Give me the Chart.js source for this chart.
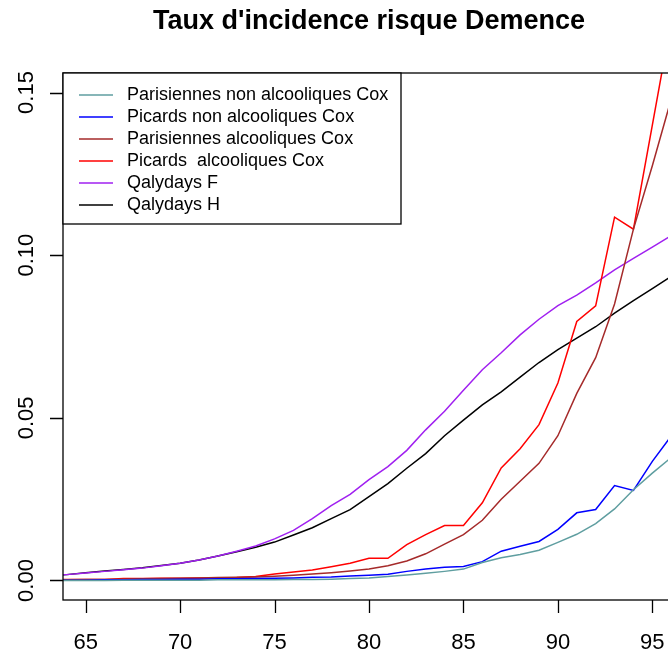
<!DOCTYPE html>
<html>
<head>
<meta charset="utf-8">
<script src="https://cdn.jsdelivr.net/npm/chart.js@4.4.1/dist/chart.umd.min.js"></script>
<style>
  html, body { margin: 0; padding: 0; overflow: hidden; background: #fff; }
  canvas { display: block; }
</style>
</head>
<body>
<canvas id="c" width="700" height="655" style="width:700px;height:655px"></canvas>
<script>
// Age (years)
const ages = [63, 64, 65, 66, 67, 68, 69, 70, 71, 72, 73, 74, 75, 76, 77, 78, 79,
              80, 81, 82, 83, 84, 85, 86, 87, 88, 89, 90, 91, 92, 93, 94, 95, 96];

// Incidence rates by group
const parisiennesNonAlc = [0.0000, 0.0000, 0.0000, 0.0000, 0.0001, 0.0001, 0.0001, 0.0001, 0.0001, 0.0002,
  0.0002, 0.0002, 0.0002, 0.0003, 0.0003, 0.0004, 0.0006, 0.0008, 0.0012, 0.0017, 0.0022, 0.0028,
  0.0035, 0.0055, 0.0070, 0.0080, 0.0093, 0.0117, 0.0142, 0.0175, 0.0220, 0.0279, 0.0330, 0.0378];
const picardsNonAlc = [0.0001, 0.0001, 0.0001, 0.0002, 0.0002, 0.0003, 0.0003, 0.0004, 0.0004, 0.0005,
  0.0005, 0.0006, 0.0007, 0.0008, 0.0010, 0.0011, 0.0014, 0.0016, 0.0019, 0.0028, 0.0035, 0.0041,
  0.0043, 0.0058, 0.0090, 0.0105, 0.0120, 0.0157, 0.0208, 0.0218, 0.0292, 0.0277, 0.0366, 0.0444];
const parisiennesAlc = [0.0002, 0.0002, 0.0003, 0.0003, 0.0004, 0.0005, 0.0006, 0.0007, 0.0008, 0.0009,
  0.0010, 0.0011, 0.0013, 0.0016, 0.0020, 0.0024, 0.0029, 0.0035, 0.0045, 0.0060, 0.0082, 0.0112,
  0.0141, 0.0185, 0.0250, 0.0305, 0.0360, 0.0445, 0.0575, 0.0685, 0.0850, 0.1080, 0.1275, 0.1480];
const picardsAlc = [0.0003, 0.0003, 0.0003, 0.0003, 0.0006, 0.0006, 0.0007, 0.0007, 0.0008, 0.0008,
  0.0009, 0.0012, 0.0020, 0.0026, 0.0032, 0.0042, 0.0053, 0.0068, 0.0068, 0.0110, 0.0141, 0.0169,
  0.0169, 0.0239, 0.0346, 0.0405, 0.0479, 0.0607, 0.0796, 0.0844, 0.1117, 0.1080, 0.1400, 0.1720];
const qalydaysF = [0.0015, 0.0018, 0.0023, 0.0028, 0.0033, 0.0038, 0.0045, 0.0053, 0.0063, 0.0075,
  0.0090, 0.0106, 0.0128, 0.0154, 0.0190, 0.0230, 0.0265, 0.0310, 0.0350, 0.0400, 0.0463, 0.0520,
  0.0585, 0.0648, 0.0700, 0.0755, 0.0803, 0.0845, 0.0877, 0.0915, 0.0955, 0.0990, 0.1025, 0.1060];
const qalydaysH = [0.0015, 0.0018, 0.0024, 0.0029, 0.0034, 0.0039, 0.0046, 0.0053, 0.0063, 0.0075,
  0.0088, 0.0102, 0.0118, 0.0140, 0.0162, 0.0190, 0.0218, 0.0258, 0.0298, 0.0345, 0.0390, 0.0445,
  0.0493, 0.0540, 0.0580, 0.0625, 0.0670, 0.0710, 0.0745, 0.0780, 0.0822, 0.0860, 0.0897, 0.0935];

const seriesLabels = [
  "Parisiennes non alcooliques Cox",
  "Picards non alcooliques Cox",
  "Parisiennes alcooliques Cox",
  "Picards  alcooliques Cox",
  "Qalydays F",
  "Qalydays H"
];
const seriesValues = [parisiennesNonAlc, picardsNonAlc, parisiennesAlc, picardsAlc, qalydaysF, qalydaysH];
const seriesColors = ["#5F9EA0", "#0000FF", "#A52A2A", "#FF0000", "#A020F0", "#000000"];

const xTicks = [65, 70, 75, 80, 85, 90, 95];
const xTickLabels = ["65", "70", "75", "80", "85", "90", "95"];
const yTicks = [0, 0.05, 0.10, 0.15];
const yTickLabels = ["0.00", "0.05", "0.10", "0.15"];
const chartTitle = "Taux d'incidence risque Demence";

const FONT = '"Liberation Sans", Arial, Helvetica, sans-serif';

// Base-graphics style frame: box, outward ticks, rotated y labels, title, legend
const framePlugin = {
  id: 'frame',
  afterDatasetsDraw(chart) {
    const { ctx, chartArea: a, scales: { x, y } } = chart;
    ctx.save();
    ctx.strokeStyle = '#000';
    ctx.lineWidth = 1.3;
    ctx.strokeRect(a.left, a.top, a.right - a.left, a.bottom - a.top);

    ctx.beginPath();
    xTicks.forEach(v => {
      const px = Math.round(x.getPixelForValue(v)) + 0.5;
      ctx.moveTo(px, a.bottom);
      ctx.lineTo(px, a.bottom + 13);
    });
    yTicks.forEach(v => {
      const py = Math.round(y.getPixelForValue(v)) + 0.5;
      ctx.moveTo(a.left, py);
      ctx.lineTo(a.left - 13, py);
    });
    ctx.stroke();

    ctx.fillStyle = '#000';
    ctx.font = '22px ' + FONT;
    ctx.textAlign = 'center';
    ctx.textBaseline = 'alphabetic';
    xTicks.forEach((v, i) => {
      ctx.fillText(xTickLabels[i], x.getPixelForValue(v), a.bottom + 49);
    });
    yTicks.forEach((v, i) => {
      ctx.save();
      ctx.translate(a.left - 30, y.getPixelForValue(v));
      ctx.rotate(-Math.PI / 2);
      ctx.fillText(yTickLabels[i], 0, 0);
      ctx.restore();
    });

    ctx.font = 'bold 27px ' + FONT;
    ctx.fillText(chartTitle, (a.left + a.right) / 2, 29);

    // legend box in the top-left corner of the plot
    const lx = a.left, ly = a.top, lw = 338, lh = 151;
    ctx.fillStyle = '#fff';
    ctx.fillRect(lx, ly, lw, lh);
    ctx.strokeStyle = '#000';
    ctx.lineWidth = 1.3;
    ctx.strokeRect(lx, ly, lw, lh);
    ctx.font = '18px ' + FONT;
    ctx.textAlign = 'left';
    ctx.textBaseline = 'middle';
    seriesLabels.forEach((label, i) => {
      const ry = ly + 22 + i * 22;
      ctx.strokeStyle = seriesColors[i];
      ctx.lineWidth = 1.5;
      ctx.beginPath();
      ctx.moveTo(lx + 16, ry);
      ctx.lineTo(lx + 50, ry);
      ctx.stroke();
      ctx.fillStyle = '#000';
      ctx.fillText(label, lx + 64, ry);
    });
    ctx.restore();
  }
};

const datasets = seriesValues.map((vals, i) => ({
  label: seriesLabels[i],
  data: ages.map((a, j) => ({ x: a, y: vals[j] })),
  borderColor: seriesColors[i],
  backgroundColor: seriesColors[i],
  borderWidth: 1.5,
  pointRadius: 0,
  tension: 0,
  fill: false,
  clip: 0
}));

new Chart(document.getElementById('c'), {
  type: 'line',
  data: { datasets },
  options: {
    responsive: false,
    animation: false,
    devicePixelRatio: 1,
    layout: { padding: { left: 63, top: 73, right: 25, bottom: 55 } },
    plugins: { legend: { display: false }, title: { display: false }, tooltip: { enabled: false } },
    scales: {
      x: { type: 'linear', min: 63.8, max: 96.2, display: false },
      y: { type: 'linear', min: -0.006, max: 0.156, display: false }
    }
  },
  plugins: [framePlugin]
});
</script>
</body>
</html>
